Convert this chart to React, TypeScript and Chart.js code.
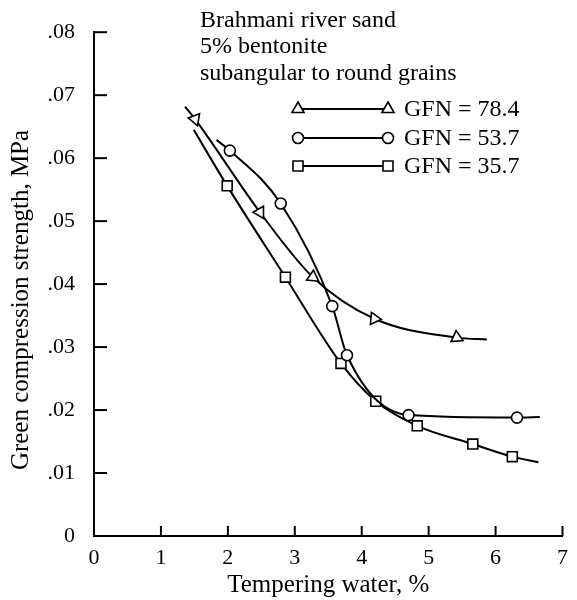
import React, { useEffect, useRef } from "react";
import { Chart, registerables } from "chart.js";

Chart.register(...registerables);

// ---- data ----
const xTickValues = [0, 1, 2, 3, 4, 5, 6, 7];
const xTickLabels = ["0", "1", "2", "3", "4", "5", "6", "7"];
const yTickValues = [0, 0.01, 0.02, 0.03, 0.04, 0.05, 0.06, 0.07, 0.08];
const yTickLabels = ["0", ".01", ".02", ".03", ".04", ".05", ".06", ".07", ".08"];

// GFN = 78.4 (triangles); first/last entries are curve ends without marker
const gfn784X = [1.36, 1.51, 2.48, 3.27, 4.19, 5.42, 5.87];
const gfn784Y = [0.0682, 0.0662, 0.0514, 0.0411, 0.0345, 0.0315, 0.0312];
const gfn784Marker = [false, true, true, true, true, true, false];
const gfn784Rotation = [0, -80, -90, -115, -25, -5, 0];

// GFN = 53.7 (circles)
const gfn537X = [1.83, 2.03, 2.79, 3.56, 3.78, 4.7, 6.32, 6.66];
const gfn537Y = [0.0629, 0.0612, 0.0528, 0.0365, 0.0287, 0.0192, 0.0188, 0.0189];
const gfn537Marker = [false, true, true, true, true, true, true, false];

// GFN = 35.7 (squares)
const gfn357X = [1.49, 1.99, 2.86, 3.69, 4.21, 4.83, 5.66, 6.25, 6.64];
const gfn357Y = [0.0645, 0.0556, 0.0411, 0.0274, 0.0214, 0.0175, 0.0146, 0.0126, 0.0117];
const gfn357Marker = [false, true, true, true, true, true, true, true, false];

const seriesLabels = ["GFN = 78.4", "GFN = 53.7", "GFN = 35.7"];
const noteLines = ["Brahmani river sand", "5% bentonite", "subangular to round grains"];
const xTitle = "Tempering water, %";
const yTitle = "Green compression strength, MPa";

const FONT = "'Liberation Serif', 'Times New Roman', serif";

function toPoints(xs: number[], ys: number[]) {
  return xs.map((x, i) => ({ x, y: ys[i] }));
}

function drawMarker(ctx: CanvasRenderingContext2D, style: string, x: number, y: number) {
  ctx.save();
  ctx.fillStyle = "#fff";
  ctx.strokeStyle = "#000";
  ctx.lineWidth = 1.6;
  ctx.beginPath();
  if (style === "triangle") {
    const r = 7;
    ctx.moveTo(x, y - r);
    ctx.lineTo(x + r * 0.866, y + r * 0.5);
    ctx.lineTo(x - r * 0.866, y + r * 0.5);
    ctx.closePath();
  } else if (style === "circle") {
    ctx.arc(x, y, 5.5, 0, Math.PI * 2);
  } else {
    ctx.rect(x - 5, y - 5, 10, 10);
  }
  ctx.fill();
  ctx.stroke();
  ctx.restore();
}

const decorPlugin = {
  id: "decor",
  afterDraw(chart: any) {
    const { ctx, chartArea } = chart;
    const xs = chart.scales.x;
    const ys = chart.scales.y;
    ctx.save();
    ctx.strokeStyle = "#000";
    ctx.lineWidth = 2;
    // inward ticks
    xTickValues.forEach((v) => {
      const px = xs.getPixelForValue(v);
      if (v === 0) return;
      ctx.beginPath();
      ctx.moveTo(px, chartArea.bottom);
      ctx.lineTo(px, chartArea.bottom - 10);
      ctx.stroke();
    });
    yTickValues.forEach((v) => {
      const py = ys.getPixelForValue(v);
      if (v === 0) return;
      ctx.beginPath();
      ctx.moveTo(chartArea.left, py);
      ctx.lineTo(chartArea.left + 13, py);
      ctx.stroke();
    });

    // y title
    ctx.fillStyle = "#000";
    ctx.font = `25px ${FONT}`;
    ctx.textAlign = "center";
    ctx.textBaseline = "middle";
    ctx.save();
    ctx.translate(21, 300);
    ctx.rotate(-Math.PI / 2);
    ctx.fillText(yTitle, 0, 0);
    ctx.restore();

    // note lines
    ctx.font = `24px ${FONT}`;
    ctx.textAlign = "left";
    ctx.textBaseline = "middle";
    const noteY = [21, 47, 74];
    noteLines.forEach((t, i) => ctx.fillText(t, 200, noteY[i]));

    // legend
    const legY = [109, 138, 166];
    const styles = ["triangle", "circle", "rect"];
    ctx.font = `24px ${FONT}`;
    seriesLabels.forEach((t, i) => {
      ctx.beginPath();
      ctx.lineWidth = 2;
      ctx.moveTo(298, legY[i]);
      ctx.lineTo(388, legY[i]);
      ctx.stroke();
      drawMarker(ctx, styles[i], 298, legY[i]);
      drawMarker(ctx, styles[i], 388, legY[i]);
      ctx.fillStyle = "#000";
      ctx.fillText(t, 404, legY[i] + 1);
    });
    ctx.restore();
  },
};

export default function App() {
  const ref = useRef<HTMLCanvasElement | null>(null);

  useEffect(() => {
    if (!ref.current) return;
    const common = {
      borderColor: "#000",
      borderWidth: 2,
      pointBackgroundColor: "#fff",
      pointBorderColor: "#000",
      pointBorderWidth: 1.6,
      cubicInterpolationMode: "monotone" as const,
      fill: false,
    };
    const chart = new Chart(ref.current, {
      type: "line",
      data: {
        datasets: [
          {
            ...common,
            label: seriesLabels[0],
            data: toPoints(gfn784X, gfn784Y),
            pointStyle: "triangle",
            pointRadius: gfn784Marker.map((m) => (m ? 7 : 0)),
            pointRotation: gfn784Rotation,
          },
          {
            ...common,
            label: seriesLabels[1],
            data: toPoints(gfn537X, gfn537Y),
            pointStyle: "circle",
            pointRadius: gfn537Marker.map((m) => (m ? 5.5 : 0)),
          },
          {
            ...common,
            label: seriesLabels[2],
            data: toPoints(gfn357X, gfn357Y),
            pointStyle: "rect",
            pointRadius: gfn357Marker.map((m) => (m ? 7 : 0)),
          },
        ],
      },
      options: {
        animation: false,
        responsive: true,
        maintainAspectRatio: false,
        layout: { padding: { left: 0, right: 11, top: 23, bottom: 0 } },
        plugins: {
          legend: { display: false },
          tooltip: { enabled: false },
        },
        scales: {
          x: {
            type: "linear",
            min: 0,
            max: 7,
            afterBuildTicks: (s: any) => {
              s.ticks = xTickValues.map((v) => ({ value: v }));
            },
            afterFit: (s: any) => {
              s.height = 64;
            },
            grid: { display: false, drawTicks: false },
            border: { display: true, color: "#000", width: 2 },
            ticks: {
              color: "#000",
              padding: 9,
              font: { family: FONT, size: 22 },
              callback: (_v: any, i: number) => xTickLabels[i],
              maxRotation: 0,
            },
            title: {
              display: true,
              text: xTitle,
              color: "#000",
              font: { family: FONT, size: 25 },
              padding: { top: 0, bottom: 0 },
            },
          },
          y: {
            type: "linear",
            min: 0,
            max: 0.08,
            afterBuildTicks: (s: any) => {
              s.ticks = yTickValues.map((v) => ({ value: v }));
            },
            afterFit: (s: any) => {
              s.width = 94;
            },
            grid: { display: false, drawTicks: false },
            border: { display: true, color: "#000", width: 2 },
            ticks: {
              color: "#000",
              padding: 19,
              font: { family: FONT, size: 22 },
              callback: (_v: any, i: number) => yTickLabels[i],
            },
          },
        },
      },
      plugins: [decorPlugin],
    });
    return () => chart.destroy();
  }, []);

  return (
    <div style={{ position: "fixed", left: 0, top: 0, width: 577, height: 600, background: "#fff" }}>
      <canvas ref={ref} />
    </div>
  );
}
